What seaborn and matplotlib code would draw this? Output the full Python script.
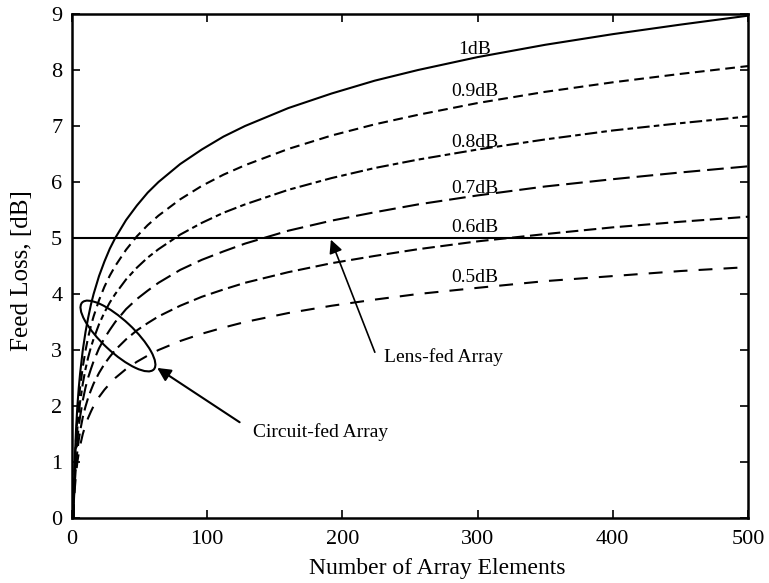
import numpy as np
import pandas as pd
import matplotlib
matplotlib.use("Agg")
import matplotlib.pyplot as plt
import matplotlib.transforms as mtransforms
from matplotlib.patches import Ellipse
import seaborn as sns

# Number of array elements
elements = [1, 1.5, 2, 3, 4, 5, 6, 8, 10, 12, 14, 16, 20, 24, 28, 32, 40, 48, 56, 64,
            80, 96, 112, 128, 160, 192, 224, 256, 300, 350, 400, 450, 500]

# Feed loss [dB] for each per-stage loss value
loss_1_0 = [0, 0.58, 1.00, 1.58, 2.00, 2.32, 2.58, 3.00, 3.32, 3.58, 3.81, 4.00, 4.32, 4.58, 4.81, 5.00,
            5.32, 5.58, 5.81, 6.00, 6.32, 6.58, 6.81, 7.00, 7.32, 7.58, 7.81, 8.00, 8.23, 8.45, 8.64, 8.81, 8.97]
loss_0_9 = [0, 0.53, 0.90, 1.43, 1.80, 2.09, 2.33, 2.70, 2.99, 3.23, 3.43, 3.60, 3.89, 4.13, 4.33, 4.50,
            4.79, 5.03, 5.23, 5.40, 5.69, 5.93, 6.13, 6.30, 6.59, 6.83, 7.03, 7.20, 7.41, 7.61, 7.78, 7.93, 8.07]
loss_0_8 = [0, 0.47, 0.80, 1.27, 1.60, 1.86, 2.07, 2.40, 2.66, 2.87, 3.05, 3.20, 3.46, 3.67, 3.85, 4.00,
            4.26, 4.47, 4.65, 4.80, 5.06, 5.27, 5.45, 5.60, 5.86, 6.07, 6.25, 6.40, 6.58, 6.76, 6.92, 7.05, 7.17]
loss_0_7 = [0, 0.41, 0.70, 1.11, 1.40, 1.63, 1.81, 2.10, 2.33, 2.51, 2.66, 2.80, 3.03, 3.21, 3.36, 3.50,
            3.73, 3.91, 4.06, 4.20, 4.43, 4.61, 4.76, 4.90, 5.13, 5.31, 5.46, 5.60, 5.76, 5.92, 6.05, 6.17, 6.28]
loss_0_6 = [0, 0.35, 0.60, 0.95, 1.20, 1.39, 1.55, 1.80, 1.99, 2.15, 2.28, 2.40, 2.59, 2.75, 2.88, 3.00,
            3.19, 3.35, 3.48, 3.60, 3.79, 3.95, 4.08, 4.20, 4.39, 4.55, 4.68, 4.80, 4.94, 5.07, 5.19, 5.29, 5.38]
loss_0_5 = [0, 0.29, 0.50, 0.79, 1.00, 1.16, 1.29, 1.50, 1.66, 1.79, 1.90, 2.00, 2.16, 2.29, 2.40, 2.50,
            2.66, 2.79, 2.90, 3.00, 3.16, 3.29, 3.40, 3.50, 3.66, 3.79, 3.90, 4.00, 4.11, 4.23, 4.32, 4.41, 4.48]

curve_labels = ["1dB", "0.9dB", "0.8dB", "0.7dB", "0.6dB", "0.5dB"]
curves = [loss_1_0, loss_0_9, loss_0_8, loss_0_7, loss_0_6, loss_0_5]
label_y = [8.36, 7.61, 6.70, 5.89, 5.18, 4.30]

lens_fed_loss = 5.0

x_ticks = [0, 100, 200, 300, 400, 500]
y_ticks = [0, 1, 2, 3, 4, 5, 6, 7, 8, 9]

sns.set_style("ticks")
plt.rcParams["font.family"] = ["Liberation Serif", "DejaVu Serif"]
plt.rcParams["lines.scale_dashes"] = False
for key in ["text.color", "axes.labelcolor", "xtick.color", "ytick.color", "axes.edgecolor"]:
    plt.rcParams[key] = "black"

fig = plt.figure(figsize=(7.69, 5.83), dpi=100)
ax = fig.add_axes([0.0936, 0.1115, 0.8791, 0.8645])

styles = [
    "-",
    (0, (7, 4)),
    (0, (9, 3, 4, 3)),
    (0, (12, 5)),
    (0, (9, 4)),
    (0, (10, 8)),
]

frames = []
for lab, vals in zip(curve_labels, curves):
    frames.append(pd.DataFrame({"elements": elements, "loss": vals, "curve": lab}))
df = pd.concat(frames, ignore_index=True)

for lab, ls in zip(curve_labels, styles):
    sub = df[df["curve"] == lab]
    sns.lineplot(data=sub, x="elements", y="loss", ax=ax, color="black",
                 linewidth=1.5, linestyle=ls, legend=False)

# Lens-fed array: constant loss
ax.axhline(lens_fed_loss, color="black", linewidth=1.5)

# Curve labels
for lab, yv in zip(curve_labels, label_y):
    ax.text(298, yv, lab, ha="center", va="center", fontsize=14)

# Ellipse around the circuit-fed curves (size in pixels, centred in data space)
ell_trans = mtransforms.Affine2D() + mtransforms.ScaledTranslation(34, 3.25, ax.transData)
ax.add_patch(Ellipse((0, 0), width=98, height=32, angle=-43, fill=False,
                     edgecolor="black", linewidth=1.5, transform=ell_trans, clip_on=False))

# Callouts
ax.annotate("", xy=(63, 2.68), xytext=(124, 1.71),
            arrowprops=dict(arrowstyle="-|>", color="black", lw=1.5,
                            mutation_scale=20, shrinkA=0, shrinkB=0))
ax.text(134, 1.54, "Circuit-fed Array", fontsize=14, ha="left", va="center")

ax.annotate("", xy=(191.5, 4.97), xytext=(224, 2.96),
            arrowprops=dict(arrowstyle="-|>", color="black", lw=1.2,
                            mutation_scale=20, shrinkA=0, shrinkB=0))
ax.text(231, 2.87, "Lens-fed Array", fontsize=14, ha="left", va="center")

ax.set_xlim(0, 500)
ax.set_ylim(0, 9)
ax.set_xticks(x_ticks)
ax.set_yticks(y_ticks)
ax.tick_params(direction="in", length=6, width=1.2, labelsize=16,
               top=True, right=True, colors="black")
ax.tick_params(axis="x", pad=9)
ax.tick_params(axis="y", pad=7)
for s in ax.spines.values():
    s.set_linewidth(1.8)
    s.set_color("black")
    s.set_visible(True)
ax.set_xlabel("Number of Array Elements", fontsize=17)
ax.set_ylabel("Feed Loss, [dB]", fontsize=18)
ax.xaxis.set_label_coords(0.541, -0.08)
ax.yaxis.set_label_coords(-0.058, 0.49)

fig.savefig("out.png", dpi=100)
